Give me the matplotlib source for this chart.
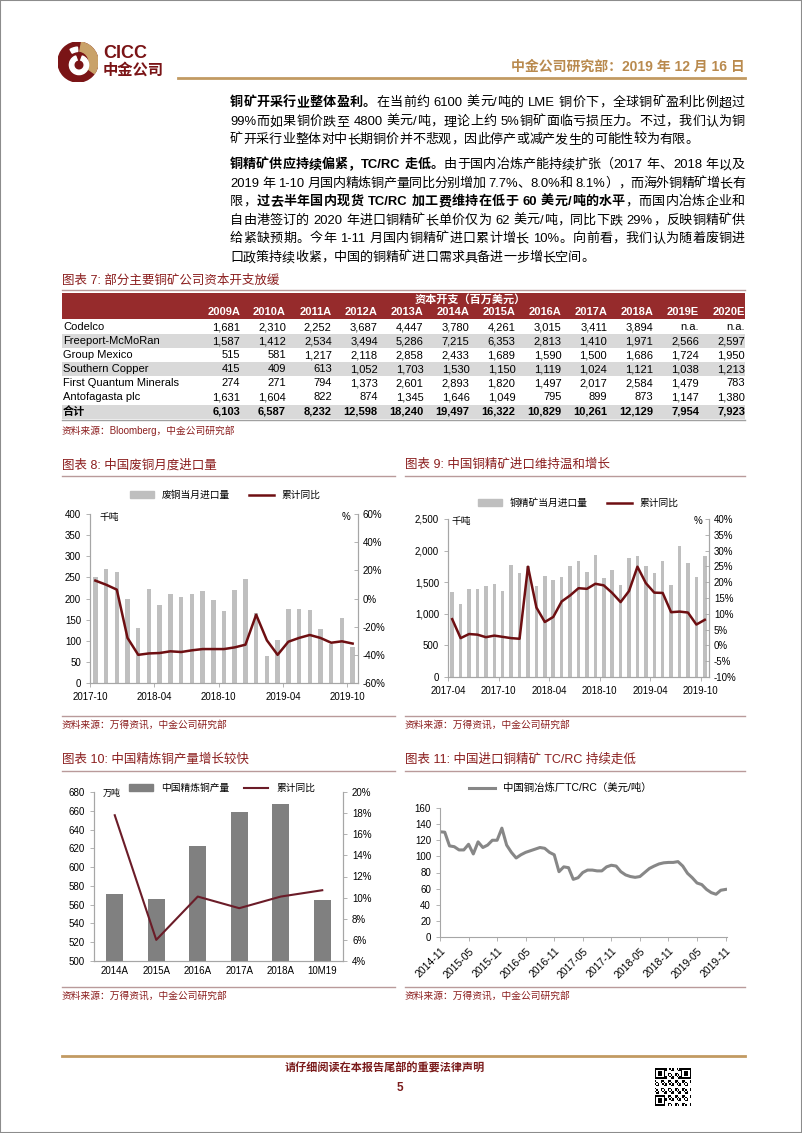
import re
import numpy as np
import matplotlib
matplotlib.use("Agg")
import matplotlib.pyplot as plt
from matplotlib.patches import Rectangle, Circle, Wedge, Patch
from matplotlib.lines import Line2D
from matplotlib.ticker import FuncFormatter

plt.rcParams['font.family'] = ['Liberation Sans', 'Noto Sans CJK SC', 'DejaVu Sans']

W, H = 802, 1133
RED = '#8B1E1E'
BAND = '#962B2C'
TAN = '#C29A62'
RULE = '#B99A9A'

# ---- table data (图表7) ----
years = ['2009A', '2010A', '2011A', '2012A', '2013A', '2014A', '2015A', '2016A',
         '2017A', '2018A', '2019E', '2020E']
companies = ['Codelco', 'Freeport-McMoRan', 'Group Mexico', 'Southern Copper',
             'First Quantum Minerals', 'Antofagasta plc', '合计']
codelco = [1681, 2310, 2252, 3687, 4447, 3780, 4261, 3015, 3411, 3894, None, None]
freeport = [1587, 1412, 2534, 3494, 5286, 7215, 6353, 2813, 1410, 1971, 2566, 2597]
group_mexico = [515, 581, 1217, 2118, 2858, 2433, 1689, 1590, 1500, 1686, 1724, 1950]
southern = [415, 409, 613, 1052, 1703, 1530, 1150, 1119, 1024, 1121, 1038, 1213]
first_quantum = [274, 271, 794, 1373, 2601, 2893, 1820, 1497, 2017, 2584, 1479, 783]
antofagasta = [1631, 1604, 822, 874, 1345, 1646, 1049, 795, 899, 873, 1147, 1380]
total = [6103, 6587, 8232, 12598, 18240, 19497, 16322, 10829, 10261, 12129, 7954, 7923]

# ---- 图表8: 废铜月度进口 (2017-10 ~ 2019-10) ----
scrap_ticks = ['2017-10', '2018-04', '2018-10', '2019-04', '2019-10']
scrap_imports = [252, 271, 263, 200, 129, 222, 185, 210, 204, 211, 218, 197, 170,
                 221, 247, 166, 65, 101, 175, 175, 172, 128, 92, 154, 86]
scrap_yoy = [12.7, 9.8, 6.3, -28, -40, -39, -38.7, -37.5, -38, -36.8, -35.9, -35.9,
             -35.9, -34.7, -32.8, -11.5, -29.7, -40, -30.7, -28, -25.9, -28, -31.4,
             -30.4, -32]

# ---- 图表9: 铜精矿月度进口 (2017-04 ~ 2019-10) ----
conc_ticks = ['2017-04', '2017-10', '2018-04', '2018-10', '2019-04', '2019-10']
conc_imports = [1350, 1155, 1398, 1392, 1435, 1477, 1361, 1772, 1651, 1750, 1445,
                1603, 1540, 1582, 1751, 1841, 1656, 1930, 1566, 1693, 1461, 1888,
                1920, 1761, 1651, 1835, 1461, 2073, 1809, 1582, 1914]
conc_yoy = [8.3, 2.3, 3.6, 3.4, 2.6, 3.1, 2.7, 2.3, 2.1, 24.9, 12.0, 7.4, 9.0, 13.9,
            15.8, 18.1, 17.9, 19.5, 19.0, 16.6, 13.7, 17.2, 24.9, 19.7, 16.7, 16.6,
            10.5, 10.7, 10.4, 6.6, 8.1]

# ---- 图表10: 精炼铜产量 ----
refined_cats = ['2014A', '2015A', '2016A', '2017A', '2018A', '10M19']
refined_output = [571, 566, 623, 659, 667, 565]
refined_yoy = [17.8, 6.0, 10.1, 9.0, 10.1, 10.7]

# ---- 图表11: TC/RC (2014-11 ~ 2019-11) ----
tcrc_ticks = ['2014-11', '2015-05', '2015-11', '2016-05', '2016-11', '2017-05',
              '2017-11', '2018-05', '2018-11', '2019-05', '2019-11']
tcrc = [130.5, 130, 113, 112, 108, 108, 115, 103, 118, 111, 114, 120, 120, 135, 114,
        105, 98, 102, 105, 107, 109, 111, 110, 105, 102, 81, 87, 86, 71.5, 73.5, 80,
        83, 83, 82, 82, 87, 89, 88, 81, 77, 75, 74, 75, 80, 85, 88, 90.6, 92, 92.5,
        92.5, 93.5, 88, 79, 73.5, 67, 65, 59, 55, 53, 58, 59]

fig = plt.figure(figsize=(W / 100, H / 100), dpi=100)


def fx(x):
    return x / W


def fy(y):
    return 1 - y / H


def px_axes(x0, y0, x1, y1):
    return fig.add_axes([fx(x0), fy(y1), (x1 - x0) / W, (y1 - y0) / H])


def hline(x0, x1, y, color, lw=1.0):
    fig.add_artist(Line2D([fx(x0), fx(x1)], [fy(y), fy(y)], color=color, lw=lw,
                          transform=fig.transFigure))


def ftext(x, y, s, **kw):
    kw.setdefault('va', 'center')
    return fig.text(fx(x), fy(y), s, **kw)


# page border
fig.add_artist(Rectangle((0, 0), 1, 1, transform=fig.transFigure, fill=False,
                         edgecolor='#8C8C8C', lw=1.5))

# ---- header ----
lax = px_axes(58, 42, 98, 82)
lax.set_xlim(-1, 1)
lax.set_ylim(-1, 1)
lax.set_aspect('equal')
lax.axis('off')
lax.add_patch(Circle((0, 0), 1, color='#7A1416'))
lax.add_patch(Wedge((0, 0), 1, -35, 80, width=0.45, color='#C9A269'))
lax.add_patch(Wedge((0.05, -0.15), 0.48, 110, 430, width=0.22, color='white'))
lax.add_patch(Wedge((0.05, -0.15), 0.9, 95, 120, width=0.22, color='white'))
ftext(103, 53, 'CICC', fontsize=13, fontweight='bold', color='#7A1416')
ftext(103, 70, '中金公司', fontsize=11, fontweight='bold', color='#7A1416')
ftext(745, 67, '中金公司研究部：2019 年 12 月 16 日', fontsize=10, fontweight='bold',
      color='#B98A4E', ha='right')
hline(178, 745, 78, TAN, lw=2)

# ---- body paragraphs (justified like the report) ----
renderer = fig.canvas.get_renderer()
body_fs = 9.4
BODY_X0, BODY_X1 = 230, 745


def tokens(s):
    # keep runs of latin letters / digits / punctuation together, split CJK per char
    return re.findall(r'[A-Za-z0-9.,%/\-]+|\s|.', s)


def rich_line(y, segs, justify):
    items = []
    for s, bold in segs:
        for tk in tokens(s):
            t = ftext(0, y, tk, fontsize=body_fs,
                      fontweight='bold' if bold else 'normal', ha='left')
            w = t.get_window_extent(renderer=renderer).width
            items.append((t, w))
    natural = sum(w for _, w in items)
    gap = 0.0
    if justify and len(items) > 1:
        gap = (BODY_X1 - BODY_X0 - natural) / (len(items) - 1)
    x = BODY_X0
    for t, w in items:
        t.set_x(fx(x))
        x += w + gap


body = [
    (103, [('铜矿开采行业整体盈利。', True),
           ('在当前约 6100 美元/吨的 LME 铜价下，全球铜矿盈利比例超过', False)], True),
    (122, [('99%而如果铜价跌至 4800 美元/吨，理论上约 5%铜矿面临亏损压力。不过，我们认为铜', False)], True),
    (140, [('矿开采行业整体对中长期铜价并不悲观，因此停产或减产发生的可能性较为有限。', False)], False),
    (165, [('铜精矿供应持续偏紧，TC/RC 走低。', True),
           ('由于国内冶炼产能持续扩张（2017 年、2018 年以及', False)], True),
    (184, [('2019 年 1-10 月国内精炼铜产量同比分别增加 7.7%、8.0%和 8.1%），而海外铜精矿增长有', False)], True),
    (202, [('限，', False), ('过去半年国内现货 TC/RC 加工费维持在低于 60 美元/吨的水平', True),
           ('，而国内冶炼企业和', False)], True),
    (221, [('自由港签订的 2020 年进口铜精矿长单价仅为 62 美元/吨，同比下跌 29%，反映铜精矿供', False)], True),
    (239, [('给紧缺预期。今年 1-11 月国内铜精矿进口累计增长 10%。向前看，我们认为随着废铜进', False)], True),
    (258, [('口政策持续收紧，中国的铜精矿进口需求具备进一步增长空间。', False)], False),
]
for y, segs, just in body:
    rich_line(y, segs, just)

# ---- 图表7 table ----
ftext(62, 281, '图表 7: 部分主要铜矿公司资本开支放缓', fontsize=9, color=RED)
hline(62, 745, 290, RULE)
fig.add_artist(Rectangle((fx(62), fy(319)), fx(745) - fx(62), (319 - 293) / H,
                         transform=fig.transFigure, color=BAND, lw=0))
ftext(470, 299, '资本开支（百万美元）', fontsize=8, fontweight='bold', color='white', ha='center')
col_right = [240 + 45.9 * i for i in range(len(years))]
for xr, yr in zip(col_right, years):
    ftext(xr, 312, yr, fontsize=8, fontweight='bold', color='white', ha='right')

rows = [codelco, freeport, group_mexico, southern, first_quantum, antofagasta, total]
shade = [False, True, False, True, False, False, True]
for i, (name, vals) in enumerate(zip(companies, rows)):
    yc = 327 + 14.1 * i
    if shade[i]:
        fig.add_artist(Rectangle((fx(62), fy(yc + 7)), fx(745) - fx(62), 14 / H,
                                 transform=fig.transFigure, color='#D9D9D9', lw=0))
    bold = name == '合计'
    ftext(63, yc, name, fontsize=8, fontweight='bold' if bold else 'normal')
    for xr, v in zip(col_right, vals):
        s = 'n.a.' if v is None else f'{v:,}'
        ftext(xr, yc, s, fontsize=8, fontweight='bold' if bold else 'normal', ha='right')
hline(62, 745, 419.5, '#A0A0A0', lw=1)
ftext(62, 431, '资料来源：Bloomberg，中金公司研究部', fontsize=7, color=RED)


# ---- chart helpers ----
def style_axes(ax, ax2=None):
    for a in [ax] + ([ax2] if ax2 is not None else []):
        a.spines['top'].set_visible(False)
        for s in ['left', 'right', 'bottom']:
            a.spines[s].set_color('#A6A6A6')
            a.spines[s].set_linewidth(0.8)
        a.tick_params(labelsize=7, colors='black', length=3, width=0.6)
        a.tick_params(axis='both', color='#A6A6A6')
        a.set_facecolor('none')


def pct(v, p):
    return f'{v:.0f}%'


def titles(x0, x1, ytitle, ysrc, title):
    ftext(x0, ytitle, title, fontsize=9, color=RED)
    hline(x0, x1, ytitle + 11, RULE)
    hline(x0, x1, ysrc, RULE)
    ftext(x0, ysrc + 9, '资料来源：万得资讯，中金公司研究部', fontsize=7, color=RED)


BAR_LIGHT = '#BFBFBF'
LINE_RED = '#6E0F12'

# ---- 图表8 ----
titles(62, 395, 465, 716, '图表 8: 中国废铜月度进口量')
ax = px_axes(90, 514, 358, 683)
x = np.arange(len(scrap_imports)) + 0.5
ax.bar(x, scrap_imports, width=0.42, color=BAR_LIGHT, zorder=1)
ax.set_xlim(0, len(scrap_imports))
ax.set_ylim(0, 400)
ax.set_yticks(range(0, 401, 50))
ax.set_xticks([0, 6, 12, 18, 24])
ax.set_xticklabels(scrap_ticks)
ax2 = ax.twinx()
ax2.plot(x, scrap_yoy, color=LINE_RED, lw=1.8)
ax2.set_ylim(-60, 60)
ax2.set_yticks(range(-60, 61, 20))
ax2.yaxis.set_major_formatter(FuncFormatter(pct))
style_axes(ax, ax2)
ax2.tick_params(axis='y', direction='in')
ftext(100, 517, '千吨', fontsize=7)
ftext(346, 517, '%', fontsize=7, ha='center')
ax.legend([Patch(color=BAR_LIGHT), Line2D([], [], color=LINE_RED, lw=1.8)],
          ['废铜当月进口量', '累计同比'], loc='center', ncol=2, frameon=False,
          fontsize=7, bbox_to_anchor=(fx(225), fy(495)), bbox_transform=fig.transFigure,
          handlelength=2.5, handleheight=0.6, columnspacing=2)

# ---- 图表9 ----
titles(405, 745, 465, 716, '图表 9: 中国铜精矿进口维持温和增长')
ax = px_axes(448, 519, 709, 677)
x = np.arange(len(conc_imports)) + 0.5
ax.bar(x, conc_imports, width=0.42, color=BAR_LIGHT, zorder=1)
ax.set_xlim(0, len(conc_imports))
ax.set_ylim(0, 2500)
ax.set_yticks(range(0, 2501, 500))
ax.yaxis.set_major_formatter(FuncFormatter(lambda v, p: f'{v:,.0f}'))
ax.set_xticks([0, 6, 12, 18, 24, 30])
ax.set_xticklabels(conc_ticks)
ax2 = ax.twinx()
ax2.plot(x, conc_yoy, color=LINE_RED, lw=1.8)
ax2.set_ylim(-10, 40)
ax2.set_yticks(range(-10, 41, 5))
ax2.yaxis.set_major_formatter(FuncFormatter(pct))
style_axes(ax, ax2)
ax2.tick_params(axis='y', direction='in')
ftext(452, 521, '千吨', fontsize=7)
ftext(698, 521, '%', fontsize=7, ha='center')
ax.legend([Patch(color=BAR_LIGHT), Line2D([], [], color=LINE_RED, lw=1.8)],
          ['铜精矿当月进口量', '累计同比'], loc='center', ncol=2, frameon=False,
          fontsize=7, bbox_to_anchor=(fx(578), fy(503)), bbox_transform=fig.transFigure,
          handlelength=2.5, handleheight=0.6, columnspacing=2)

# ---- 图表10 ----
titles(62, 395, 760, 987, '图表 10: 中国精炼铜产量增长较快')
ax = px_axes(94, 792, 343, 961)
x = np.arange(len(refined_output))
ax.bar(x, refined_output, width=0.42, color='#808080', zorder=1)
ax.set_xlim(-0.5, len(refined_output) - 0.5)
ax.set_ylim(500, 680)
ax.set_yticks(range(500, 681, 20))
ax.set_xticks(x)
ax.set_xticklabels(refined_cats)
ax2 = ax.twinx()
ax2.plot(x, refined_yoy, color='#6B1C28', lw=1.5)
ax2.set_ylim(4, 20)
ax2.set_yticks(range(4, 21, 2))
ax2.yaxis.set_major_formatter(FuncFormatter(pct))
style_axes(ax, ax2)
ax.tick_params(axis='x', length=0)
ftext(103, 793, '万吨', fontsize=6.5)
ax.legend([Patch(color='#808080'), Line2D([], [], color='#6B1C28', lw=1.5)],
          ['中国精炼铜产量', '累计同比'], loc='center', ncol=2, frameon=False,
          fontsize=7, bbox_to_anchor=(fx(222), fy(788)), bbox_transform=fig.transFigure,
          handlelength=2.5, handleheight=0.6, columnspacing=1.5)

# ---- 图表11 ----
titles(405, 745, 760, 987, '图表 11: 中国进口铜精矿 TC/RC 持续走低')
ax = px_axes(440, 808, 727, 937)
x = np.arange(len(tcrc))
ax.plot(x, tcrc, color='#878787', lw=2.2)
ax.set_xlim(0, len(tcrc) - 0.7)
ax.set_ylim(0, 160)
ax.set_yticks(range(0, 161, 20))
ax.set_xticks(range(0, len(tcrc), 6))
ax.set_xticklabels(tcrc_ticks, rotation=45, ha='right', rotation_mode='anchor')
style_axes(ax)
ax.tick_params(axis='x', labelsize=7.5)
ax.spines['right'].set_visible(False)
ax.legend([Line2D([], [], color='#878787', lw=2.2)], ['中国铜冶炼厂TC/RC（美元/吨）'],
          loc='center', frameon=False, fontsize=7.5,
          bbox_to_anchor=(fx(560), fy(788)), bbox_transform=fig.transFigure,
          handlelength=2.5)

# ---- footer ----
hline(62, 745, 1056, TAN, lw=2)
ftext(385, 1068, '请仔细阅读在本报告尾部的重要法律声明', fontsize=8, fontweight='bold',
      color='#7A1B1B', ha='center')
ftext(400, 1088, '5', fontsize=8.5, fontweight='bold', color='#7A1B1B', ha='center')

# QR-like mark
qax = px_axes(655, 1068, 691, 1106)
qax.axis('off')
qr = np.zeros((25, 25))
ii, jj = np.meshgrid(np.arange(25), np.arange(25), indexing='ij')
qr[((ii * 7 + jj * 3 + ii * jj) % 5) < 2] = 1
for (r0, c0) in [(0, 0), (0, 18), (18, 0)]:
    qr[r0:r0 + 7, c0:c0 + 7] = 1
    qr[r0 + 1:r0 + 6, c0 + 1:c0 + 6] = 0
    qr[r0 + 2:r0 + 5, c0 + 2:c0 + 5] = 1
qax.imshow(qr, cmap='Greys', interpolation='nearest', aspect='auto')

fig.savefig('out.png', dpi=100)
